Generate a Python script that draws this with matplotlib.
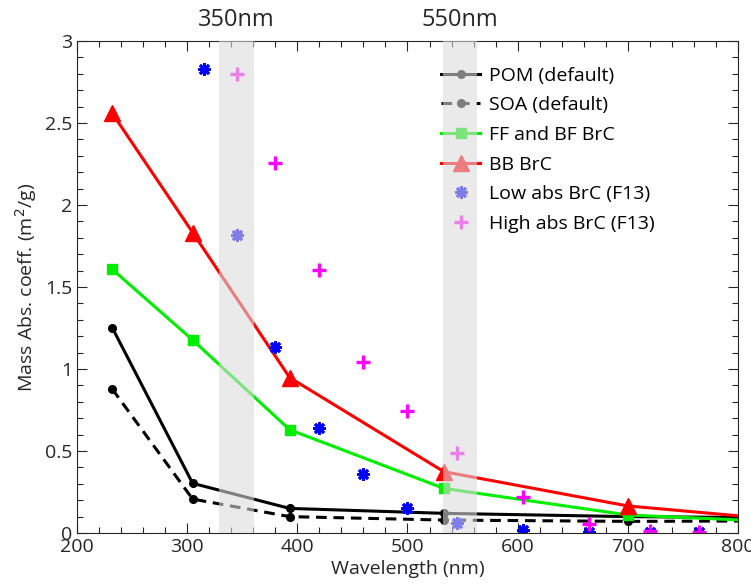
import matplotlib
matplotlib.use("Agg")
import matplotlib.pyplot as plt
from matplotlib.ticker import MultipleLocator

plt.rcParams['font.family'] = ['Open Sans', 'DejaVu Sans']

# wavelengths of the model curves (nm)
wl = [232, 305, 393, 533, 700, 800]
pom = [1.252, 0.303, 0.150, 0.120, 0.100, 0.095]
soa = [0.878, 0.207, 0.100, 0.079, 0.071, 0.073]
ff_bf = [1.608, 1.177, 0.630, 0.272, 0.110, 0.080]
bb = [2.559, 1.832, 0.948, 0.374, 0.165, 0.105]

# F13 data
wl_low = [315, 345, 380, 420, 460, 500, 545, 605, 665, 720, 765]
low_abs = [2.83, 1.82, 1.136, 0.640, 0.360, 0.150, 0.063, 0.018, 0.005, 0.005, 0.004]
wl_high = [345, 380, 420, 460, 500, 545, 605, 665, 720, 765]
high_abs = [2.80, 2.254, 1.604, 1.040, 0.746, 0.490, 0.221, 0.055, 0.010, 0.006]

bands = [(329, 361), (532, 563)]
band_labels = ['350nm', '550nm']

fig = plt.figure(figsize=(7.51, 5.84), dpi=100)
ax = fig.add_axes([0.1025, 0.0873, 0.8802, 0.8425])

mk = [0, 1, 2, 3, 4]
ax.plot(wl, pom, '-', color='k', lw=2.2, marker='o', ms=5.5, markevery=mk, label='POM (default)')
ax.plot(wl, soa, '--', color='k', lw=2.2, marker='o', ms=5.5, markevery=mk,
        dashes=(3.5, 2.2), label='SOA (default)')
ax.plot(wl, ff_bf, '-', color='#00ee00', lw=2.2, marker='s', ms=7.5, markevery=mk, label='FF and BF BrC')
ax.plot(wl, bb, '-', color='#ff0000', lw=2.2, marker='^', ms=11, markevery=mk, label='BB BrC')
ax.plot(wl_low, low_abs, ls='none', marker=(8, 2, 0), ms=9, mew=2.0, color='#0000ff',
        label='Low abs BrC (F13)')
ax.plot(wl_high, high_abs, ls='none', marker='+', ms=10, mew=2.4, color='#ff00ff',
        label='High abs BrC (F13)')

ax.set_xlim(200, 800)
ax.set_ylim(0, 3)
ax.xaxis.set_major_locator(MultipleLocator(100))
ax.xaxis.set_minor_locator(MultipleLocator(20))
ax.yaxis.set_minor_locator(MultipleLocator(0.1))
ax.set_yticks([0, 0.5, 1, 1.5, 2, 2.5, 3])
ax.set_yticklabels(['0', '0.5', '1', '1.5', '2', '2.5', '3'])
ax.tick_params(which='both', direction='in', top=True, right=True, labelsize=14,
               colors='0.15', width=0.8)
ax.tick_params(which='major', length=7)
ax.tick_params(which='minor', length=4)
for s in ax.spines.values():
    s.set_color('0.15')
    s.set_linewidth(0.8)

ax.set_xlabel('Wavelength (nm)', fontsize=14, color='0.15', labelpad=3)
ax.set_ylabel('Mass Abs. coeff. (m$^2$/g)', fontsize=14, color='0.15', labelpad=4)

leg = ax.legend(loc='upper left', bbox_to_anchor=(0.551, 0.948), frameon=False,
                fontsize=14, handlelength=2.0, handletextpad=0.45, labelspacing=0.6,
                borderpad=0, borderaxespad=0, numpoints=1)
leg.set_zorder(4)

# grey bands on top of the data
for (a, b), lab in zip(bands, band_labels):
    ax.axvspan(a, b, color='#dbdbdb', alpha=0.58, lw=0, zorder=6)
    ax.text((a + b) / 2, 3.055, lab, ha='center', va='bottom', fontsize=17, color='0.15')

fig.savefig('out.png', dpi=100)
